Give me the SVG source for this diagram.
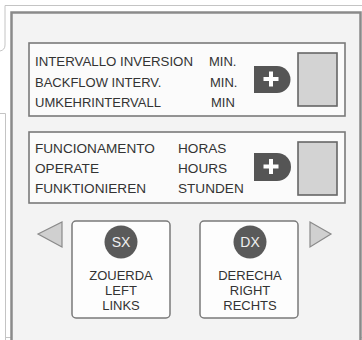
<svg xmlns="http://www.w3.org/2000/svg" width="362" height="340" viewBox="0 0 362 340">
<style>
.t{font-family:"Liberation Sans",Arial,sans-serif;font-size:13px;fill:#333}
.t2{font-size:13.6px}
.c{text-anchor:middle}
.w{font-family:"Liberation Sans",Arial,sans-serif;font-size:14px;fill:#f0f0f0;text-anchor:middle}
.box{fill:#fbfbfb;stroke:#7a7a7a;stroke-width:1.6}
.disp{fill:#d3d3d3;stroke:#666;stroke-width:1.6}
.plus{fill:#555}
.btn{fill:#fdfdfd;stroke:#7a7a7a;stroke-width:1.5}
.knob{fill:#5a5a5a}
.tri{fill:#d0d0d0;stroke:#8a8a8a;stroke-width:1.2}
.edge{fill:none;stroke:#c4c4c4;stroke-width:1}
</style>
<rect x="0" y="0" width="362" height="340" fill="#ffffff"/>
<g id="paper">
<path class="edge" d="M0,51 Q5,50 5,45 L5,5.5 L362,5.5"/>
<path class="edge" d="M0,113.5 L5.5,113.5 L5.5,340"/>
<path class="edge" d="M5.5,337.5 L362,337.5"/>
</g>
<g id="panel">
<path d="M11.5,340 L11.5,12.5 L360.5,12.5 L360.5,340" fill="#f3f3f3" stroke="#8a8a8a" stroke-width="2.5"/>
</g>
<g id="interval">
<rect class="box" x="29" y="43" width="316" height="73"/>
<text class="t" x="35" y="66" textLength="158" lengthAdjust="spacingAndGlyphs">INTERVALLO INVERSION</text>
<text class="t" x="35" y="87">BACKFLOW INTERV.</text>
<text class="t" x="35" y="107">UMKEHRINTERVALL</text>
<text class="t" x="209" y="66">MIN.</text>
<text class="t" x="210" y="87">MIN.</text>
<text class="t" x="211" y="107">MIN</text>
<path class="plus" d="M254,66 L277,66 A13.5,13.5 0 0 1 277,93 L254,93 Z"/>
<path d="M269,71.5 h4 v5.5 h5.5 v4 h-5.5 v5.5 h-4 v-5.5 h-5.5 v-4 h5.5 Z" fill="#fff"/>
<rect class="disp" x="298" y="53" width="39" height="53"/>
</g>
<g id="operate">
<rect class="box" x="29" y="132" width="316" height="71"/>
<text class="t t2" x="35" y="153">FUNCIONAMENTO</text>
<text class="t t2" x="35" y="173">OPERATE</text>
<text class="t t2" x="35" y="193">FUNKTIONIEREN</text>
<text class="t t2" x="178" y="153">HORAS</text>
<text class="t t2" x="178" y="173">HOURS</text>
<text class="t t2" x="178" y="193">STUNDEN</text>
<path class="plus" d="M254,153 L277,153 A14,14 0 0 1 277,181 L254,181 Z"/>
<path d="M269,159 h4 v5.5 h5.5 v4 h-5.5 v5.5 h-4 v-5.5 h-5.5 v-4 h5.5 Z" fill="#fff"/>
<rect class="disp" x="298" y="142" width="39" height="53"/>
</g>
<g id="arrow-left">
<polygon class="tri" points="38,234 62,222 62,247"/>
</g>
<g id="left">
<rect class="btn" x="72" y="221" width="98" height="97" rx="4"/>
<circle class="knob" cx="121" cy="242" r="16.5"/>
<text class="w" x="121" y="247">SX</text>
<text class="t c" x="121" y="280">ZOUERDA</text>
<text class="t c" x="121" y="295">LEFT</text>
<text class="t c" x="121" y="310">LINKS</text>
</g>
<g id="right">
<rect class="btn" x="200" y="221" width="98" height="97" rx="4"/>
<circle class="knob" cx="250" cy="242" r="16.5"/>
<text class="w" x="250" y="247">DX</text>
<text class="t c" x="250" y="280">DERECHA</text>
<text class="t c" x="250" y="295">RIGHT</text>
<text class="t c" x="250" y="310">RECHTS</text>
</g>
<g id="arrow-right">
<polygon class="tri" points="331,234 310,222 310,247"/>
</g>
<g id="connectors"/>
</svg>
